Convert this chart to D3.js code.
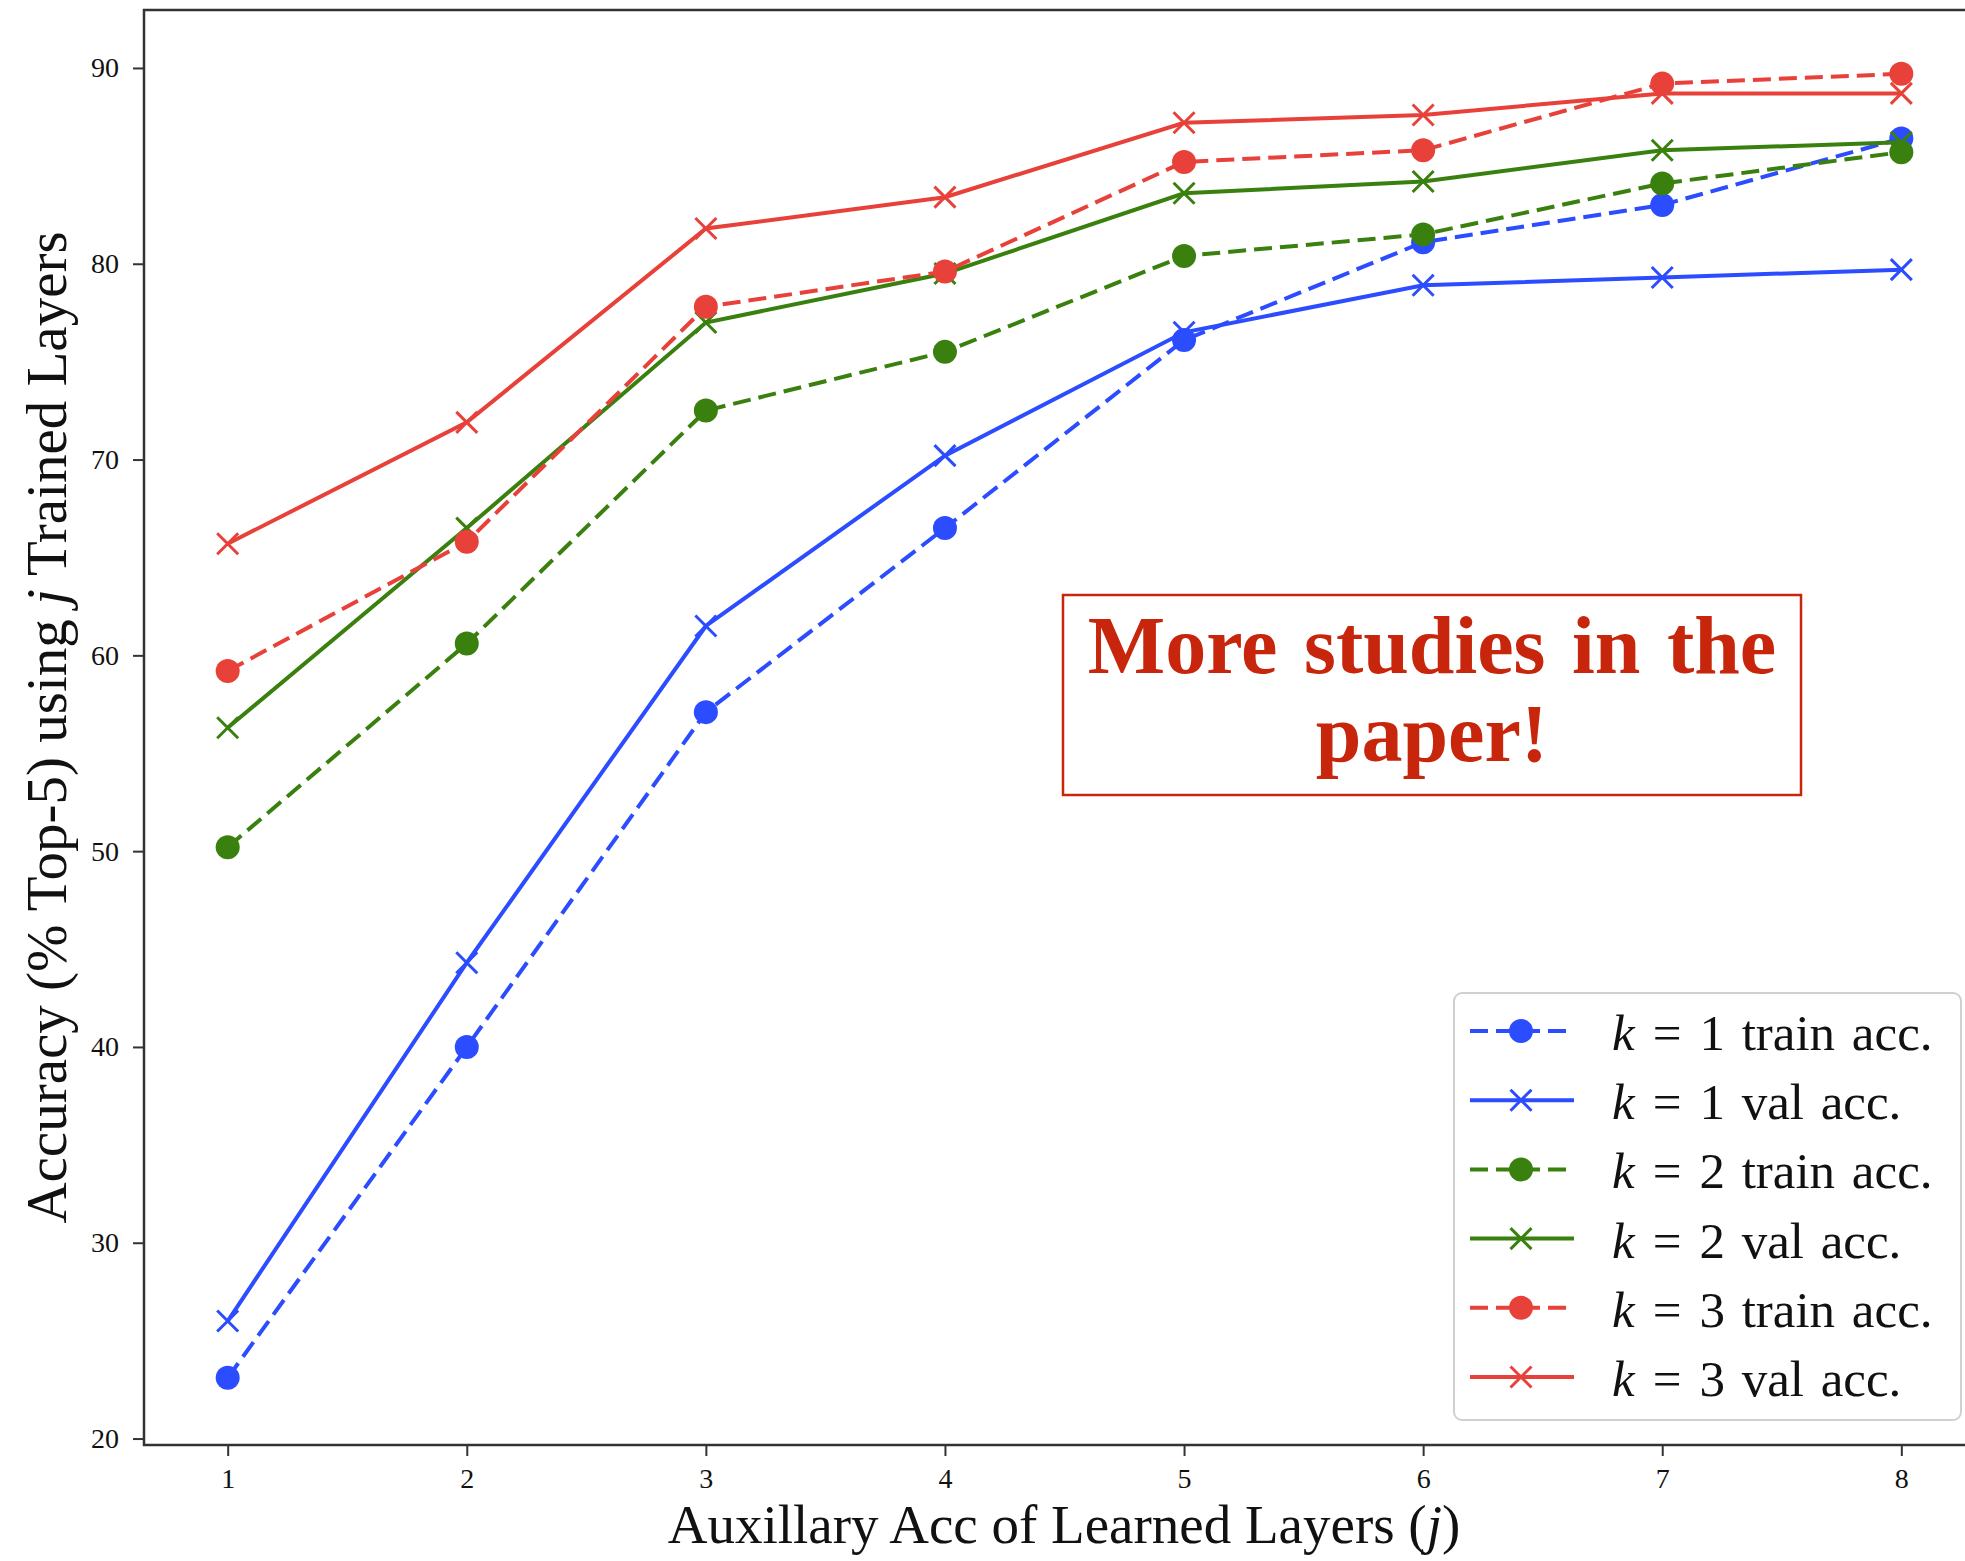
<!DOCTYPE html>
<html>
<head>
<meta charset="utf-8">
<script src="https://cdn.jsdelivr.net/npm/d3@7"></script>
<style>
  body { margin: 0; background: #fff; }
  svg text { font-family: 'Liberation Serif', 'DejaVu Serif', serif; fill: #111; }
</style>
</head>
<body>
<div id="main"></div>
<script>
// data
const layers = [1, 2, 3, 4, 5, 6, 7, 8];
const k1Train = [23.1, 40.0, 57.1, 66.5, 76.1, 81.1, 83.0, 86.4];
const k1Val = [26.0, 44.3, 61.5, 70.2, 76.5, 78.9, 79.3, 79.7];
const k2Train = [50.2, 60.6, 72.5, 75.5, 80.4, 81.5, 84.1, 85.7];
const k2Val = [56.3, 66.5, 77.0, 79.5, 83.6, 84.2, 85.8, 86.2];
const k3Train = [59.2, 65.8, 77.8, 79.6, 85.2, 85.8, 89.2, 89.7];
const k3Val = [65.7, 71.9, 81.8, 83.4, 87.2, 87.6, 88.7, 88.7];
const yTicks = [20, 30, 40, 50, 60, 70, 80, 90];
const seriesNames = ['1 train acc.', '1 val acc.', '2 train acc.', '2 val acc.', '3 train acc.', '3 val acc.'];

const BLUE = '#2b4cff';
const GREEN = '#3a800f';
const RED = '#e8413a';

const series = [
  { values: k1Train, color: BLUE, dashed: true, marker: 'o' },
  { values: k1Val, color: BLUE, dashed: false, marker: 'x' },
  { values: k2Train, color: GREEN, dashed: true, marker: 'o' },
  { values: k2Val, color: GREEN, dashed: false, marker: 'x' },
  { values: k3Train, color: RED, dashed: true, marker: 'o' },
  { values: k3Val, color: RED, dashed: false, marker: 'x' },
].map((s, i) => ({ ...s, name: seriesNames[i] }));

// set up the margins (the figure is a crop, right spine falls off the page)
const SVG_W = 1965;
const SVG_H = 1561;
const MARGIN = { top: 10, left: 144 };
const WIDTH = 1841;
const HEIGHT = 1435;

const LINE_W = 4;
const DASH = '18,8';

const drawMarker = (g, marker, color) => {
  if (marker === 'o') {
    g.append('circle').attr('r', 12).attr('fill', color);
  } else {
    const s = 10.5;
    g.append('path')
      .attr('d', `M${-s},${-s}L${s},${s}M${-s},${s}L${s},${-s}`)
      .attr('stroke', color)
      .attr('stroke-width', 3)
      .attr('fill', 'none');
  }
};

const buildAxes = (props) => {
  const { svg, xScale, yScale } = props;

  const xAxis = svg.append('g')
    .attr('transform', `translate(0,${HEIGHT})`)
    .call(d3.axisBottom(xScale).tickValues(layers).tickSize(11).tickPadding(12));

  const yAxis = svg.append('g')
    .call(d3.axisLeft(yScale).tickValues(yTicks).tickSize(11).tickPadding(14));

  [xAxis, yAxis].forEach((a) => {
    a.select('.domain').remove();
    a.selectAll('line').attr('stroke', '#333').attr('stroke-width', 2);
    a.selectAll('text').style('font-size', '28px').attr('fill', '#111');
  });

  // frame
  svg.append('rect')
    .attr('width', WIDTH)
    .attr('height', HEIGHT)
    .attr('fill', 'none')
    .attr('stroke', '#333')
    .attr('stroke-width', 2.5);

  svg.append('text')
    .attr('text-anchor', 'middle')
    .attr('x', 1064 - MARGIN.left)
    .attr('y', 1543 - MARGIN.top)
    .style('font-size', '55px')
    .html('Auxillary Acc of Learned Layers (<tspan font-style="italic">j</tspan>)');

  svg.append('text')
    .attr('text-anchor', 'middle')
    .attr('transform', `translate(${66 - MARGIN.left},${HEIGHT / 2}) rotate(-90)`)
    .style('font-size', '57px')
    .html('Accuracy (% Top-5) using <tspan font-style="italic">j</tspan> Trained Layers');
};

const renderLines = (props) => {
  const { svg, xScale, yScale } = props;

  const line = d3.line()
    .x((d, i) => xScale(layers[i]))
    .y((d) => yScale(d));

  series.forEach((s) => {
    const g = svg.append('g');
    g.append('path')
      .datum(s.values)
      .attr('d', line)
      .attr('fill', 'none')
      .attr('stroke', s.color)
      .attr('stroke-width', LINE_W)
      .attr('stroke-dasharray', s.dashed ? DASH : null);

    g.selectAll('.pt')
      .data(s.values)
      .enter()
      .append('g')
      .attr('class', 'pt')
      .attr('transform', (d, i) => `translate(${xScale(layers[i])},${yScale(d)})`)
      .each(function () { drawMarker(d3.select(this), s.marker, s.color); });
  });
};

const renderLegend = (props) => {
  const { root } = props;
  const lg = root.append('g');

  lg.append('rect')
    .attr('x', 1454)
    .attr('y', 993)
    .attr('width', 507)
    .attr('height', 427)
    .attr('rx', 8)
    .attr('fill', '#fff')
    .attr('fill-opacity', 0.85)
    .attr('stroke', '#d0d0d0')
    .attr('stroke-width', 2);

  series.forEach((s, i) => {
    const cy = 1031 + i * 69.2;
    const row = lg.append('g').attr('transform', `translate(0,${cy})`);
    row.append('line')
      .attr('x1', 1470)
      .attr('x2', 1574)
      .attr('stroke', s.color)
      .attr('stroke-width', LINE_W)
      .attr('stroke-dasharray', s.dashed ? DASH : null);
    drawMarker(row.append('g').attr('transform', 'translate(1521,0)'), s.marker, s.color);
    row.append('text')
      .attr('x', 1612)
      .attr('y', 19)
      .style('font-size', '51px')
      .style('word-spacing', '4px')
      .html(`<tspan font-style="italic">k</tspan><tspan dx="18">=</tspan><tspan dx="18">${s.name}</tspan>`);
  });
};

const renderNote = (props) => {
  const { root } = props;
  root.append('rect')
    .attr('x', 1063)
    .attr('y', 595)
    .attr('width', 738)
    .attr('height', 200)
    .attr('fill', '#fff')
    .attr('stroke', '#c8260c')
    .attr('stroke-width', 2.5);

  ['More studies in the', 'paper!'].forEach((t, i) => {
    root.append('text')
      .attr('x', 1432)
      .attr('y', 673 + i * 88)
      .attr('text-anchor', 'middle')
      .style('font-size', '82px')
      .style('font-weight', 'bold')
      .style('word-spacing', '6px')
      .style('fill', '#c8260c')
      .text(t);
  });
};

const renderChart = () => {
  const root = d3.select('div#main')
    .append('svg')
    .attr('width', SVG_W)
    .attr('height', SVG_H);

  const svg = root.append('g')
    .attr('transform', `translate(${MARGIN.left},${MARGIN.top})`);

  // scalers, with matplotlib style 5% padding
  const xScale = d3.scaleLinear().domain([0.65, 8.35]).range([0, WIDTH]);
  const yScale = d3.scaleLinear().domain([19.67, 92.96]).range([HEIGHT, 0]);

  renderLines({ svg, xScale, yScale });
  buildAxes({ svg, xScale, yScale });
  renderNote({ root });
  renderLegend({ root });
};

renderChart();
</script>
</body>
</html>
